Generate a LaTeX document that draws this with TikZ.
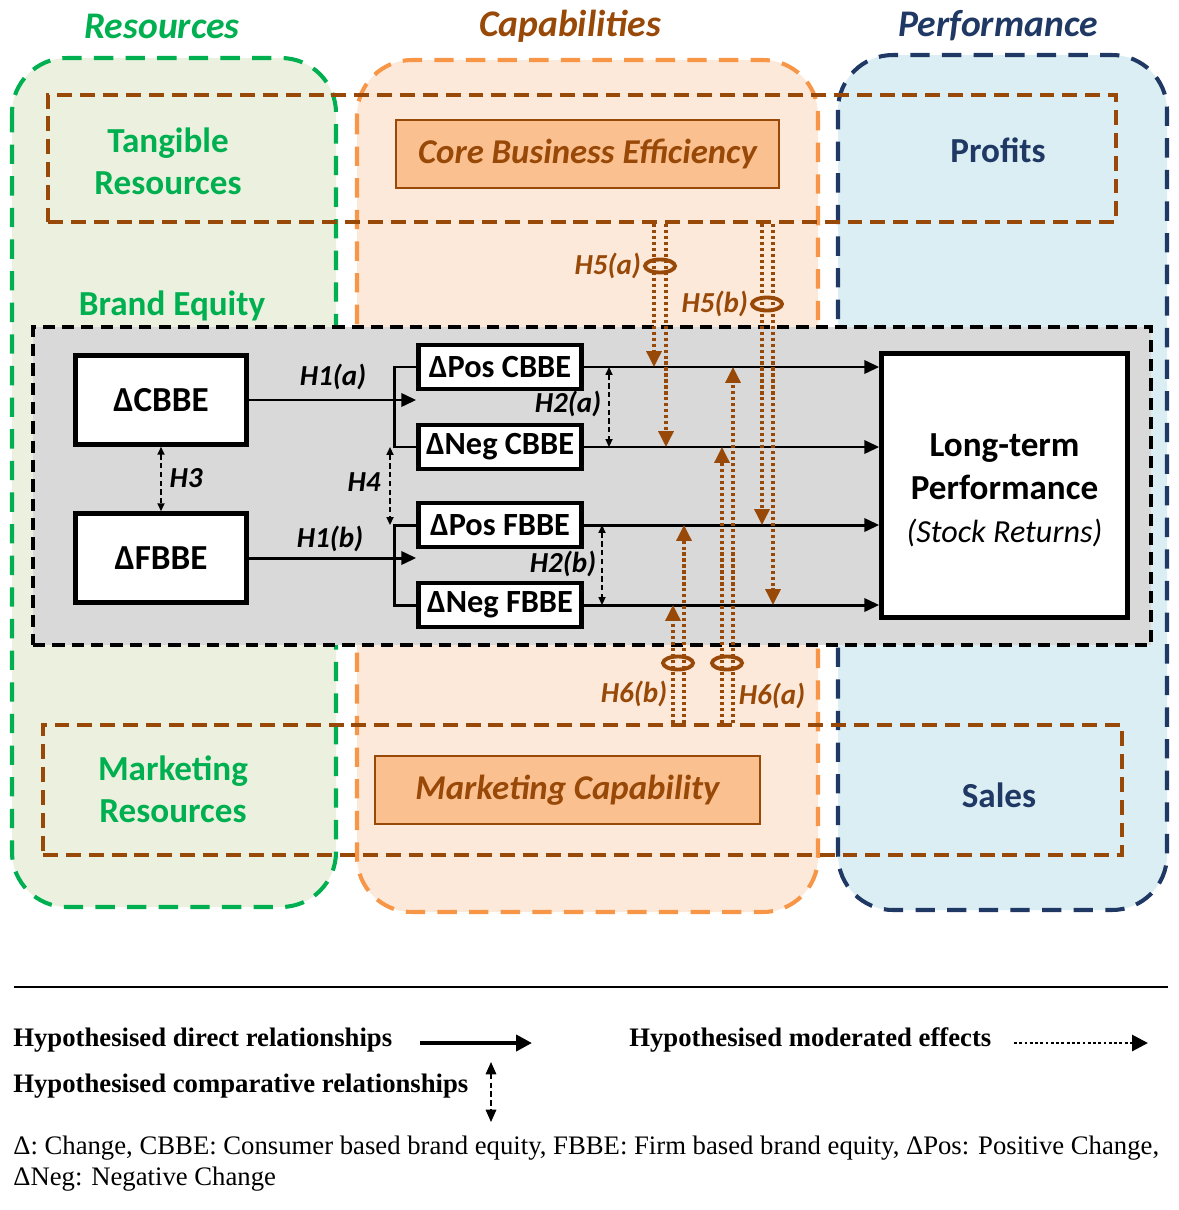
\documentclass[tikz,border=0pt]{standalone}
\usepackage{fontspec}
\setmainfont{Carlito}
\newfontfamily\legendfont{Liberation Serif}
\usetikzlibrary{arrows.meta,shapes.geometric,positioning}

\definecolor{resgreen}{HTML}{00B050}
\definecolor{resfill}{HTML}{EBF1DE}
\definecolor{caporange}{HTML}{F79646}
\definecolor{capfill}{HTML}{FDE9D9}
\definecolor{capbrown}{HTML}{984807}
\definecolor{capbox}{HTML}{FAC090}
\definecolor{perfblue}{HTML}{1F3864}
\definecolor{perffill}{HTML}{DBEEF4}
\definecolor{bandgray}{HTML}{D9D9D9}

\tikzset{
  colbox/.style={line width=2.3pt, dash pattern=on 11pt off 7pt, rounded corners=1.1cm},
  coltitle/.style={font=\fontsize{21.4}{25}\selectfont\bfseries\itshape},
  levelbox/.style={draw=capbrown, line width=2.4pt, dash pattern=on 8.5pt off 4.5pt, inner sep=0pt},
  restext/.style={text=resgreen, align=center, font=\fontsize{20}{24}\selectfont\bfseries},
  perftext/.style={text=perfblue, font=\fontsize{20}{24}\selectfont\bfseries},
  capabox/.style={draw=capbrown, line width=0.7pt, fill=capbox, text=capbrown,
    minimum width=7.66cm, minimum height=1.36cm, font=\fontsize{19.8}{24}\selectfont\bfseries\itshape},
  construct/.style={draw, line width=2.6pt, fill=white, inner sep=0pt,
    font=\fontsize{20}{24}\selectfont\bfseries},
  deltabox/.style={construct, minimum width=3.26cm, minimum height=0.88cm,
    font=\fontsize{18.4}{22}\selectfont\bfseries},
  hyp/.style={font=\fontsize{16.5}{19}\selectfont\bfseries\itshape, inner sep=1pt},
  direct/.style={line width=1.7pt, -{Triangle[length=8.5pt, width=7.5pt]}},
  compare/.style={line width=0.9pt, dash pattern=on 3pt off 2pt,
    {Triangle[length=4.5pt, width=4pt]}-{Triangle[length=4.5pt, width=4pt]}},
  moderated/.style={draw=capbrown, line width=1.8pt, dash pattern=on 1.8pt off 1.6pt,
    -{Triangle[length=9pt, width=8.5pt, fill=capbrown]}},
  ring/.style={ellipse, draw=capbrown, line width=2.2pt, minimum width=0.6cm,
    minimum height=0.26cm, inner sep=0pt},
  legtext/.style={font=\legendfont\bfseries\fontsize{15.2}{18}\selectfont, inner sep=0pt, anchor=west},
  footnote/.style={font=\legendfont\fontsize{15.2}{18}\selectfont, inner sep=0pt, anchor=base west}
}

\begin{document}
\begin{tikzpicture}[x=0.02cm, y=-0.02cm]
  \useasboundingbox (0,0) rectangle (1179,1210);

  % Columns
  \draw[colbox, draw=resgreen, fill=resfill] (12,58) rectangle (336,907);
  \draw[colbox, draw=caporange, fill=capfill] (357,60) rectangle (818,912);
  \draw[colbox, draw=perfblue, fill=perffill] (838,55) rectangle (1167,910);

  \node[coltitle, text=resgreen] (restitle) at (162,26) {Resources};
  \node[coltitle, text=capbrown] (captitle) at (570,26) {Capabilities};
  \node[coltitle, text=perfblue] (perftitle) at (998,26) {Performance};

  % Bands across the columns
  \node[levelbox, minimum width=21.36cm, minimum height=2.54cm] (effband) at (582,158.5) {};
  \node[levelbox, minimum width=21.58cm, minimum height=2.6cm] (mktband) at (582.5,790) {};

  \node[restext] (tangible) at (168,161) {Tangible\\Resources};
  \node[capabox] (cbe) at (587.5,154) {Core Business Efficiency};
  \node[perftext] (profits) at (998,150) {Profits};
  \node[restext] (mktres) at (173,789) {Marketing\\Resources};
  \node[capabox, minimum width=7.7cm] (mktcap) at (567.5,790) {Marketing Capability};
  \node[perftext] (sales) at (999,795) {Sales};
  \node[restext] (brandeq) at (172,306) {Brand Equity};

  % Brand equity band
  \node[draw, line width=2.6pt, dash pattern=on 7pt off 4pt, fill=bandgray,
    minimum width=22.36cm, minimum height=6.36cm] (eqband) at (592,486) {};

  % Constructs
  \node[construct, minimum width=3.42cm, minimum height=1.78cm] (cbbe) at (161,400) {ΔCBBE};
  \node[construct, minimum width=3.42cm, minimum height=1.78cm] (fbbe) at (161,558) {ΔFBBE};
  \node[deltabox] (poscbbe) at (500,367) {ΔPos CBBE};
  \node[deltabox] (negcbbe) at (500,447) {ΔNeg CBBE};
  \node[deltabox] (posfbbe) at (500,525) {ΔPos FBBE};
  \node[deltabox] (negfbbe) at (500,605) {ΔNeg FBBE};
  \node[construct, minimum width=4.92cm, minimum height=5.28cm, align=center,
    font=\fontsize{20}{24.5}\selectfont\bfseries] (ltp) at (1004.5,485.5)
    {\\[-6pt]Long-term\\Performance\\{\fontsize{18.3}{22}\selectfont\mdseries\itshape (Stock Returns)}};

  % Direct relationships
  \draw[direct] (cbbe.east) -- (cbbe.east -| poscbbe.west);
  \draw[line width=1.7pt] (poscbbe.west) -- ++(-22,0) |- (negcbbe.west);
  \draw[direct] (fbbe.east) -- (fbbe.east -| posfbbe.west);
  \draw[line width=1.7pt] (posfbbe.west) -- ++(-22,0) |- (negfbbe.west);
  \draw[direct] (poscbbe.east) -- (poscbbe.east -| ltp.west);
  \draw[direct] (negcbbe.east) -- (negcbbe.east -| ltp.west);
  \draw[direct] (posfbbe.east) -- (posfbbe.east -| ltp.west);
  \draw[direct] (negfbbe.east) -- (negfbbe.east -| ltp.west);

  % Comparative relationships
  \coordinate (h4) at (390,0);
  \coordinate (h2a) at (609,0);
  \coordinate (h2b) at (602,0);
  \draw[compare] (cbbe.south) -- (fbbe.north);
  \draw[compare] (h4 |- negcbbe.west) -- (h4 |- posfbbe.west);
  \draw[compare] (h2a |- poscbbe.east) -- (h2a |- negcbbe.east);
  \draw[compare] (h2b |- posfbbe.east) -- (h2b |- negfbbe.east);

  \node[hyp] (h1alab) at (333,377) {H1(a)};
  \node[hyp] (h1blab) at (330,539) {H1(b)};
  \node[hyp] (h3lab) at (186,478) {H3};
  \node[hyp] (h4lab) at (364,482) {H4};
  \node[hyp] (h2alab) at (568,404) {H2(a)};
  \node[hyp] (h2blab) at (563,564) {H2(b)};

  % Moderated effects
  \coordinate (m5a1) at (654,0);
  \coordinate (m5a2) at (666,0);
  \coordinate (m5b1) at (762,0);
  \coordinate (m5b2) at (773,0);
  \coordinate (m6b1) at (673,0);
  \coordinate (m6b2) at (684,0);
  \coordinate (m6a2) at (722,0);
  \coordinate (m6a1) at (733,0);
  \draw[moderated] (m5a1 |- effband.south) -- (m5a1 |- poscbbe.east);
  \draw[moderated] (m5a2 |- effband.south) -- (m5a2 |- negcbbe.east);
  \draw[moderated] (m5b1 |- effband.south) -- (m5b1 |- posfbbe.east);
  \draw[moderated] (m5b2 |- effband.south) -- (m5b2 |- negfbbe.east);
  \draw[moderated] (m6a1 |- mktband.north) -- (m6a1 |- poscbbe.east);
  \draw[moderated] (m6a2 |- mktband.north) -- (m6a2 |- negcbbe.east);
  \draw[moderated] (m6b2 |- mktband.north) -- (m6b2 |- posfbbe.east);
  \draw[moderated] (m6b1 |- mktband.north) -- (m6b1 |- negfbbe.east);

  \node[ring] (r5a) at (660,266) {};
  \node[ring] (r5b) at (767,304) {};
  \node[ring] (r6b) at (678,663) {};
  \node[ring] (r6a) at (727,663) {};
  \node[hyp, text=capbrown, left=0pt of r5a] (h5alab) {H5(a)};
  \node[hyp, text=capbrown, left=0pt of r5b] (h5blab) {H5(b)};
  \node[hyp, text=capbrown] (h6blab) at (634,694) {H6(b)};
  \node[hyp, text=capbrown] (h6alab) at (772,696) {H6(a)};

  % Legend
  \coordinate (rulel) at (14,987);
  \coordinate (ruler) at (1168,987);
  \draw[line width=1pt] (rulel) -- (ruler);

  \node[legtext] (legdirect) at (13,1040) {Hypothesised direct relationships};
  \node[legtext] (legmod) at (629,1040) {Hypothesised moderated effects};
  \node[legtext] (legcomp) at (13,1086) {Hypothesised comparative relationships};
  \coordinate (ld1) at (420,1043);
  \coordinate (ld2) at (532,1043);
  \coordinate (lm1) at (1014,1043);
  \coordinate (lm2) at (1148,1043);
  \coordinate (lc1) at (491,1062);
  \coordinate (lc2) at (491,1122);
  \draw[line width=2.3pt, -{Triangle[length=9pt, width=9pt]}] (ld1) -- (ld2);
  \draw[line width=1.6pt, dash pattern=on 1.6pt off 1.4pt, -{Triangle[length=9pt, width=9pt]}] (lm1) -- (lm2);
  \draw[compare, {Triangle[length=7pt, width=6pt]}-{Triangle[length=7pt, width=6pt]}] (lc1) -- (lc2);

  \node[footnote] (note1) at (13,1154) {Δ: Change, CBBE: Consumer based brand equity, FBBE: Firm based brand equity, ΔPos: Positive Change,};
  \node[footnote] (note2) at (13,1185) {ΔNeg: Negative Change};
\end{tikzpicture}
\end{document}
